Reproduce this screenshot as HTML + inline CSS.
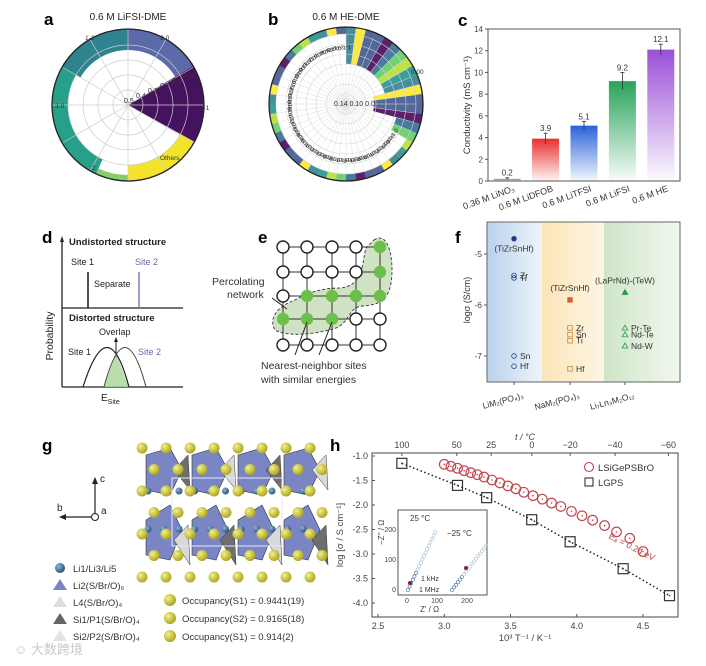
<!DOCTYPE html>
<html><head><meta charset="utf-8"><style>
body{margin:0;background:#fff;}
svg{display:block;font-family:"Liberation Sans","Noto Sans CJK SC",sans-serif;}
</style></head><body>
<svg id="fig" width="706" height="666" viewBox="0 0 706 666">
<defs>
<linearGradient id="gRed" x1="0" y1="0" x2="0" y2="1"><stop offset="0" stop-color="#e8302e"/><stop offset="1" stop-color="#e8302e" stop-opacity="0.05"/></linearGradient>
<linearGradient id="gBlue" x1="0" y1="0" x2="0" y2="1"><stop offset="0" stop-color="#2a62d8"/><stop offset="1" stop-color="#2a62d8" stop-opacity="0.05"/></linearGradient>
<linearGradient id="gGreen" x1="0" y1="0" x2="0" y2="1"><stop offset="0" stop-color="#27a35a"/><stop offset="1" stop-color="#27a35a" stop-opacity="0.03"/></linearGradient>
<linearGradient id="gPurple" x1="0" y1="0" x2="0" y2="1"><stop offset="0" stop-color="#9a4fd8"/><stop offset="1" stop-color="#9a4fd8" stop-opacity="0.03"/></linearGradient>
<linearGradient id="gGray" x1="0" y1="0" x2="0" y2="1"><stop offset="0" stop-color="#888"/><stop offset="1" stop-color="#888" stop-opacity="0.2"/></linearGradient>
<linearGradient id="fBlue" x1="0" y1="0" x2="1" y2="0"><stop offset="0" stop-color="#b9d1ec"/><stop offset="1" stop-color="#eef4fb"/></linearGradient>
<linearGradient id="fOrange" x1="0" y1="0" x2="1" y2="0"><stop offset="0" stop-color="#fbe5b8"/><stop offset="1" stop-color="#fdf5e4"/></linearGradient>
<linearGradient id="fGreen" x1="0" y1="0" x2="1" y2="0"><stop offset="0" stop-color="#cfe5c8"/><stop offset="1" stop-color="#f2f8ef"/></linearGradient>
<radialGradient id="ball" cx="0.35" cy="0.35" r="0.7"><stop offset="0" stop-color="#f4f08a"/><stop offset="1" stop-color="#a8a21a"/></radialGradient>
<radialGradient id="liball" cx="0.35" cy="0.35" r="0.7"><stop offset="0" stop-color="#8fb8d8"/><stop offset="1" stop-color="#1f4f7a"/></radialGradient>
</defs>

<g font-weight="bold" font-size="17" fill="#000">
<text x="44" y="25">a</text><text x="268" y="25">b</text><text x="458" y="26">c</text>
<text x="42" y="243">d</text><text x="258" y="243">e</text><text x="455" y="243">f</text>
<text x="42" y="451">g</text><text x="330" y="451">h</text>
</g>

<g id="panelA"></g>
<g id="panelB"></g>
<g id="panelC"></g>

<g font-size="9" fill="#222">
<line x1="62" y1="387" x2="62" y2="240" stroke="#222" stroke-width="1.3"/>
<polygon points="62,236 60,242 64,242" fill="#222"/>
<line x1="62" y1="308" x2="183" y2="308" stroke="#222" stroke-width="1.3"/>
<line x1="62" y1="387" x2="183" y2="387" stroke="#222" stroke-width="1.3"/>
<text x="69" y="245" font-weight="bold" font-size="9.5">Undistorted structure</text>
<text x="71" y="265">Site 1</text><text x="135" y="265" fill="#6a6aa8">Site 2</text>
<line x1="88" y1="272" x2="88" y2="308" stroke="#222" stroke-width="1.6"/>
<line x1="139" y1="272" x2="139" y2="308" stroke="#6a6aa8" stroke-width="1.3"/>
<text x="94" y="287">Separate</text>
<text x="69" y="321" font-weight="bold" font-size="9.5">Distorted structure</text>
<text x="99" y="335">Overlap</text>
<line x1="116" y1="358" x2="116" y2="340" stroke="#222"/><polygon points="116,337 114,342 118,342" fill="#222"/>
<text x="68" y="355">Site 1</text><text x="138" y="355" fill="#6a6aa8">Site 2</text>
<polygon points="104,387 116,353 129,387" fill="#a9d49a" opacity="0.8"/>
<path d="M83,387 Q108,308 129,387" fill="none" stroke="#222" stroke-width="1.2"/>
<path d="M104,387 Q125,308 146,387" fill="none" stroke="#444" stroke-width="1"/>
<text x="101" y="401" font-size="10">E<tspan font-size="7" dy="3">Site</tspan></text>
<text transform="translate(53,336) rotate(-90)" font-size="10.5" text-anchor="middle">Probability</text>
</g>

<g id="panelE"></g>
<g id="panelF"></g>
<g id="panelG"></g>
<g id="panelH"></g>

<text x="14" y="654" font-size="13" fill="#c8c8c8">☺ 大数跨境</text>
</svg>

<script>
const NS="http://www.w3.org/2000/svg";
function mk(parent,tag,attrs,text){const e=document.createElementNS(NS,tag);for(const k in attrs)e.setAttribute(k,attrs[k]);if(text!==undefined)e.textContent=text;parent.appendChild(e);return e;}

const cCategories=["0.36 M LiNO₃","0.6 M LiDFOB","0.6 M LiTFSI","0.6 M LiFSI","0.6 M HE"];
const cValues=[0.2,3.9,5.1,9.2,12.1];
const cErrors=[0.1,0.5,0.4,0.8,0.5];
const cTicks=[0,2,4,6,8,10,12,14];
const cFills=["url(#gGray)","url(#gRed)","url(#gBlue)","url(#gGreen)","url(#gPurple)"];
const fCategories=["LiM₂(PO₄)₃","NaM₂(PO₄)₃","Li₇Ln₃M₂O₁₂"];
const fTicks=[-5,-6,-7];
const fLabels=["(TiZrSnHf)","Zr","Ti","Sn","Hf","(TiZrSnHf)","Zr","Sn","Ti","Hf","(LaPrNd)-(TeW)","Pr-Te","Nd-Te","Nd-W"];
const fGroup=[0,0,0,0,0,1,1,1,1,1,2,2,2,2];
const fValues=[-4.7,-5.42,-5.47,-7.0,-7.2,-5.9,-6.45,-6.58,-6.7,-7.25,-5.75,-6.45,-6.58,-6.8];
const hTicksX=[2.5,3.0,3.5,4.0,4.5];
const hTicksY=[-1.0,-1.5,-2.0,-2.5,-3.0,-3.5,-4.0];
const hTopTicks=[100,50,25,0,-20,-40,-60];
const lgpsX=[2.68,3.10,3.32,3.66,3.95,4.35,4.70];
const lgpsY=[-1.15,-1.60,-1.85,-2.30,-2.75,-3.30,-3.85];
const lsiX=[3.00,3.05,3.10,3.15,3.20,3.25,3.30,3.36,3.42,3.48,3.54,3.60,3.67,3.74,3.81,3.88,3.96,4.04,4.12,4.21,4.30,4.40,4.50];
const lsiY=[-1.17,-1.21,-1.25,-1.30,-1.34,-1.38,-1.43,-1.49,-1.55,-1.61,-1.67,-1.74,-1.81,-1.88,-1.96,-2.03,-2.13,-2.22,-2.31,-2.42,-2.55,-2.68,-2.95];
const aStart=[0,59,119,180,205,300];
const aEnd=[59,119,180,205,300,360];
const aInner=[55,0,60,70,60,55];
const aColors=["#5b6aa8","#45125f","#f3e42b","#86cc6a","#27a08a","#2e838e"];
const aLabels=["2-0","2-1","Others","2","3-0","1-2"];

(function(){
const g=document.getElementById('panelA');const cx=128,cy=105,R=76;
mk(g,'text',{x:cx,y:20,'font-size':10,'text-anchor':'middle',fill:'#222'},'0.6 M LiFSI-DME');
function pt(a,r){const t=(a-90)*Math.PI/180;return [cx+r*Math.cos(t),cy+r*Math.sin(t)];}
function sector(a0,a1,r0,r1){const p0=pt(a0,r1),p1=pt(a1,r1),large=(a1-a0)>180?1:0;
 if(r0<=0)return `M${cx},${cy}L${p0}A${r1},${r1} 0 ${large} 1 ${p1}Z`;
 const q0=pt(a1,r0),q1=pt(a0,r0);return `M${p0}A${r1},${r1} 0 ${large} 1 ${p1}L${q0}A${r0},${r0} 0 ${large} 0 ${q1}Z`;}
for(let i=0;i<aStart.length;i++){
 const s=mk(g,'path',{d:sector(aStart[i],aEnd[i],aInner[i],R),fill:aColors[i]});
 
 
}
for(const r of [15,30,45,60,76])mk(g,'circle',{cx,cy,r,fill:'none',stroke:'#ccc','stroke-width':0.7});
for(let a=0;a<360;a+=30){const p=pt(a,76);mk(g,'line',{x1:cx,y1:cy,x2:p[0],y2:p[1],stroke:'#ccc','stroke-width':0.7});}
mk(g,'circle',{cx,cy,r:R,fill:'none',stroke:'#222','stroke-width':1.3});
const rl=['0.5','0.4','0.3','0.2','0.1','0.0'];rl.forEach((t,i)=>mk(g,'text',{x:cx-4+i*12,y:cy-2-i*5,'font-size':7,fill:'#333'},t));
[[200,110,'2-1'],[55,108,'3-0'],[160,40,'2-0'],[85,40,'1-2'],[160,160,'Others'],[92,170,'2']].forEach(l=>mk(g,'text',{x:l[0],y:l[1],'font-size':6.5,fill:'#333'},l[2]));
})();

(function(){
const g=document.getElementById('panelB');const cx=346,cy=104,R=77;
mk(g,'text',{x:346,y:20,'font-size':10,'text-anchor':'middle',fill:'#222'},'0.6 M HE-DME');
function pt(a,r){const t=(a-90)*Math.PI/180;return [cx+r*Math.cos(t),cy+r*Math.sin(t)];}
const cols=["#2e7d8e","#3b528b","#440154","#5ec962","#21918c","#fde725","#3b528b","#31688e","#b5de2b"];
const n=48;
for(let i=0;i<n;i++){const a0=i*360/n,a1=(i+1)*360/n;let r0=70;
 if(a0>=0&&a0<75)r0=40; if(a0>=75&&a0<105)r0=28; if(a0>=105&&a0<115)r0=52;
 const p0=pt(a0,R),p1=pt(a1,R),q0=pt(a1,r0),q1=pt(a0,r0);
 const c=cols[(i*5)%cols.length];
 mk(g,'path',{d:`M${p0}A${R},${R} 0 0 1 ${p1}L${q0}A${r0},${r0} 0 0 0 ${q1}Z`,fill:c,opacity:0.88});
}
for(const r of [10,20,30,40,50,60,70])mk(g,'circle',{cx,cy,r,fill:'none',stroke:'#d4d4d4','stroke-width':0.6});
for(let a=0;a<360;a+=7.5){const p=pt(a,70);mk(g,'line',{x1:cx,y1:cy,x2:p[0],y2:p[1],stroke:'#ddd','stroke-width':0.5});}
for(let i=0;i<34;i++){const a=125+i*7;const p=pt(a,58);mk(g,'text',{x:p[0],y:p[1],'font-size':5.5,fill:'#222','text-anchor':'middle',transform:`rotate(${a-180},${p[0]},${p[1]})`},['0-0-1-0','1-0-0-0','2-0-1-0','1-1-0-0','0-1-0-1'][i%5]);}
mk(g,'circle',{cx,cy,r:R,fill:'none',stroke:'#222','stroke-width':1.3});
mk(g,'text',{x:cx-12,y:cy+2,'font-size':7,fill:'#333'},'0.14  0.10  0.0');
mk(g,'text',{x:cx+65,y:cy-30,'font-size':6.5,fill:'#333'},'0.00');
})();

(function(){
const g=document.getElementById('panelC');const L=488,Rr=680,T=29,B=181;
const y=v=>B-(v/14)*(B-T);const band=(Rr-L)/cCategories.length;const x=i=>L+(i+0.5)*band;
mk(g,'rect',{x:L,y:T,width:Rr-L,height:B-T,fill:'none',stroke:'#555','stroke-width':1});
cTicks.forEach(t=>{mk(g,'line',{x1:L-3,y1:y(t),x2:L,y2:y(t),stroke:'#555'});mk(g,'text',{x:L-5,y:y(t)+3,'font-size':8,'text-anchor':'end',fill:'#444'},t);});
cValues.forEach((v,i)=>{
 const b=mk(g,'rect',{x:x(i)-13.5,y:y(v),width:27,height:B-y(v),fill:cFills[i]});
 
 
 mk(g,'line',{x1:x(i),y1:y(v+cErrors[i]),x2:x(i),y2:y(v-cErrors[i]),stroke:'#333','stroke-width':0.8});
 mk(g,'line',{x1:x(i)-2,y1:y(v+cErrors[i]),x2:x(i)+2,y2:y(v+cErrors[i]),stroke:'#333','stroke-width':0.8});
 mk(g,'text',{x:x(i),y:y(v+cErrors[i])-2,'font-size':8,'text-anchor':'middle',fill:'#333'},v.toFixed(1));
 mk(g,'text',{x:x(i)+8,y:B+10,'font-size':9,'text-anchor':'end',fill:'#333',transform:`rotate(-20,${x(i)+8},${B+10})`},cCategories[i]);
});
mk(g,'text',{x:470,y:105,'font-size':9.5,'text-anchor':'middle',fill:'#333',transform:'rotate(-90,470,105)'},'Conductivity (mS cm⁻¹)');
})();

(function(){
const g=document.getElementById('panelE');const xs=[283,307,332,356,380],ys=[247,272,296,319,345];
const green=[[0,4],[1,4],[2,1],[2,2],[2,3],[2,4],[3,0],[3,1],[3,2]];
mk(g,'path',{d:'M374,240 C386,232 392,250 392,270 C392,300 380,305 362,306 C348,308 350,322 336,328 C310,336 285,336 275,330 C268,318 278,306 295,300 C305,294 320,288 340,288 C364,286 362,262 366,248 Z',fill:'#cfe3c4',stroke:'#333','stroke-dasharray':'3,2','stroke-width':0.9});
ys.forEach(yy=>mk(g,'line',{x1:xs[0],y1:yy,x2:xs[4],y2:yy,stroke:'#333','stroke-width':1}));
xs.forEach(xx=>mk(g,'line',{x1:xx,y1:ys[0],x2:xx,y2:ys[4],stroke:'#333','stroke-width':1}));
for(let r=0;r<5;r++)for(let c=0;c<5;c++){const isG=green.some(p=>p[0]===r&&p[1]===c);
 mk(g,'circle',{cx:xs[c],cy:ys[r],r:isG?5.5:6,fill:isG?'#6cc04a':'#fff',stroke:isG?'#6cc04a':'#222','stroke-width':1.4});}
mk(g,'text',{x:212,y:285,'font-size':10.5,fill:'#333'},'Percolating');
mk(g,'text',{x:227,y:298,'font-size':10.5,fill:'#333'},'network');
mk(g,'line',{x1:287,y1:309,x2:272,y2:298,stroke:'#222'});
mk(g,'line',{x1:307,y1:322,x2:295,y2:355,stroke:'#222'});
mk(g,'line',{x1:332,y1:322,x2:319,y2:355,stroke:'#222'});
mk(g,'text',{x:261,y:369,'font-size':10.5,fill:'#333'},'Nearest-neighbor sites');
mk(g,'text',{x:261,y:383,'font-size':10.5,fill:'#333'},'with similar energies');
})();

(function(){
const g=document.getElementById('panelF');const L=487,Rr=680,T=222,B=382;
const y=v=>254+(-5-v)*51;const xc=[514,570,625];
mk(g,'rect',{x:L,y:T,width:55,height:B-T,fill:'url(#fBlue)'});
mk(g,'rect',{x:542,y:T,width:62,height:B-T,fill:'url(#fOrange)'});
mk(g,'rect',{x:604,y:T,width:76,height:B-T,fill:'url(#fGreen)'});
mk(g,'rect',{x:L,y:T,width:Rr-L,height:B-T,fill:'none',stroke:'#666'});
fTicks.forEach(t=>{mk(g,'line',{x1:L-3,y1:y(t),x2:L,y2:y(t),stroke:'#555'});mk(g,'text',{x:L-5,y:y(t)+3,'font-size':8.5,'text-anchor':'end',fill:'#444'},t);});
xc.forEach((x,i)=>{mk(g,'line',{x1:x,y1:B,x2:x,y2:B+3,stroke:'#555'});mk(g,'text',{x:x+10,y:B+16,'font-size':8.5,'text-anchor':'end',fill:'#333',transform:`rotate(-15,${x+10},${B+16})`},fCategories[i]);});
mk(g,'text',{x:470,y:300,'font-size':9,'text-anchor':'middle',fill:'#333',transform:'rotate(-90,470,300)'},'logσ (S/cm)');
fValues.forEach((v,i)=>{const gi=fGroup[i];const x=xc[gi],yy=y(v);const filled=fLabels[i].startsWith('(');
 let m;
 if(gi===0)m=mk(g,'circle',{cx:x,cy:yy,r:2.3,fill:filled?'#1f3a80':'none',stroke:'#1f3a80','stroke-width':0.8});
 else if(gi===1)m=mk(g,'rect',{x:x-2.3,y:yy-2.3,width:4.6,height:4.6,fill:filled?'#d0622e':'none',stroke:filled?'#d0622e':'#c08a3a','stroke-width':0.8});
 else m=mk(g,'polygon',{points:`${x},${yy-2.8} ${x-2.8},${yy+2.2} ${x+2.8},${yy+2.2}`,fill:filled?'#2a9a50':'none',stroke:'#2a9a50','stroke-width':0.8});
 
 
 if(filled)mk(g,'text',{x:x,y:yy+(gi===0?13:-9),'font-size':8.5,'text-anchor':'middle',fill:'#333'},fLabels[i]);
 else mk(g,'text',{x:x+6,y:yy+3,'font-size':8.5,fill:'#333'},fLabels[i]);
});
})();

(function(){
const g=document.getElementById('panelG');
mk(g,'line',{x1:95,y1:517,x2:95,y2:482,stroke:'#222','stroke-width':1.2});mk(g,'polygon',{points:'95,477 92,484 98,484',fill:'#222'});
mk(g,'line',{x1:93,y1:517,x2:64,y2:517,stroke:'#222','stroke-width':1.2});mk(g,'polygon',{points:'59,517 66,514 66,520',fill:'#222'});
mk(g,'circle',{cx:95,cy:517,r:3.5,fill:'#fff',stroke:'#222'});
mk(g,'text',{x:100,y:482,'font-size':10,fill:'#222'},'c');mk(g,'text',{x:57,y:511,'font-size':10,fill:'#222'},'b');mk(g,'text',{x:101,y:514,'font-size':10,fill:'#222'},'a');
for(let c=0;c<4;c++){const ox=140+c*46;
 mk(g,'polygon',{points:`${ox+6},${455} ${ox+30},${448} ${ox+42},${470} ${ox+30},${495} ${ox+6},${490}`,fill:'#7a86c4',stroke:'#333','stroke-width':0.6});
 mk(g,'polygon',{points:`${ox+6},${520} ${ox+30},${505} ${ox+42},${530} ${ox+30},${560} ${ox+6},${555}`,fill:'#7a86c4',stroke:'#333','stroke-width':0.6});
 mk(g,'polygon',{points:`${ox+34},${470} ${ox+48},${455} ${ox+50},${490}`,fill:c%2?'#d9d9d9':'#6e6e6e',stroke:'#333','stroke-width':0.5});
 mk(g,'polygon',{points:`${ox+34},${540} ${ox+48},${525} ${ox+50},${565}`,fill:c%2?'#6e6e6e':'#d9d9d9',stroke:'#333','stroke-width':0.5});
}
mk(g,'rect',{x:172,y:478,width:110,height:68,fill:'none',stroke:'#e8e8f8','stroke-width':1});
for(let c=0;c<11;c++){mk(g,'circle',{cx:148+c*15.5,cy:491,r:3.5,fill:'url(#liball)'});mk(g,'circle',{cx:148+c*15.5,cy:529,r:3.5,fill:'url(#liball)'});}
for(let r=0;r<7;r++)for(let c=0;c<8;c++){const x=142+c*24+(r%2?12:0),yy=448+r*21.5;if(x>322)continue;mk(g,'circle',{cx:x,cy:yy,r:5.5,fill:'url(#ball)'});}
const leg=[['Li1/Li3/Li5','c'],['Li2(S/Br/O)₆','#7a86c4'],['L4(S/Br/O)₄','#ddd'],['Si1/P1(S/Br/O)₄','#666'],['Si2/P2(S/Br/O)₄','#e4e4e4']];
leg.forEach((l,i)=>{const yy=571+i*17;
 if(l[1]==='c')mk(g,'circle',{cx:60,cy:yy-3,r:5,fill:'url(#liball)'});else mk(g,'polygon',{points:`60,${yy-9} 53,${yy+2} 67,${yy+2}`,fill:l[1]});
 mk(g,'text',{x:73,y:yy+1,'font-size':9.5,fill:'#333'},l[0]);});
['Occupancy(S1) = 0.9441(19)','Occupancy(S2) = 0.9165(18)','Occupancy(S1) = 0.914(2)'].forEach((t,i)=>{const yy=604+i*18;
 mk(g,'circle',{cx:170,cy:yy-4,r:6,fill:'url(#ball)'});mk(g,'text',{x:182,y:yy,'font-size':9.5,fill:'#333'},t);});
})();

(function(){
const g=document.getElementById('panelH');const L=372,Rr=678,T=453,B=617;
const x=v=>378+(v-2.5)*132.5, y=v=>456+(-1-v)*49;
mk(g,'rect',{x:L,y:T,width:Rr-L,height:B-T,fill:'none',stroke:'#555','stroke-width':1.1});
hTicksX.forEach(t=>{mk(g,'line',{x1:x(t),y1:B,x2:x(t),y2:B-3,stroke:'#555'});mk(g,'text',{x:x(t),y:B+12,'font-size':9,'text-anchor':'middle',fill:'#444'},t.toFixed(1));});
hTicksY.forEach(t=>{mk(g,'line',{x1:L,y1:y(t),x2:L+3,y2:y(t),stroke:'#555'});mk(g,'text',{x:L-4,y:y(t)+3,'font-size':9,'text-anchor':'end',fill:'#444'},t.toFixed(1));});
hTopTicks.forEach(t=>{const xv=x(1000/(t+273.15));mk(g,'line',{x1:xv,y1:T,x2:xv,y2:T+3,stroke:'#555'});mk(g,'text',{x:xv,y:T-5,'font-size':9,'text-anchor':'middle',fill:'#444'},t===0?'0':(t<0?'−'+(-t):t));});
mk(g,'text',{x:525,y:440,'font-size':9,'text-anchor':'middle',fill:'#444','font-style':'italic'},'t / °C');
mk(g,'text',{x:525,y:641,'font-size':9.5,'text-anchor':'middle',fill:'#444'},'10³ T⁻¹ / K⁻¹');
mk(g,'text',{x:343,y:535,'font-size':9.5,'text-anchor':'middle',fill:'#444',transform:'rotate(-90,343,535)'},'log [σ / S cm⁻¹]');
const lp=lgpsX.map((v,i)=>`${x(v)},${y(lgpsY[i])}`).join(' ');
mk(g,'polyline',{points:lp,fill:'none',stroke:'#222','stroke-width':1.5,'stroke-dasharray':'1.5,2.5'});
lgpsX.forEach((v,i)=>{const m=mk(g,'rect',{x:x(v)-5,y:y(lgpsY[i])-5,width:10,height:10,fill:'none',stroke:'#333','stroke-width':1.2});
 
 
 mk(g,'circle',{cx:x(v),cy:y(lgpsY[i]),r:0.8,fill:'#333'});});
lsiX.forEach((v,i)=>{const m=mk(g,'circle',{cx:x(v),cy:y(lsiY[i]),r:4.8,fill:'none',stroke:'#c0474f','stroke-width':1.2});
 
 
 mk(g,'circle',{cx:x(v),cy:y(lsiY[i]),r:0.8,fill:'#c0474f'});});
mk(g,'text',{x:608,y:538,'font-size':9,fill:'#c0474f',transform:'rotate(27,608,538)'},'Eₐ = 0.24 eV');
mk(g,'circle',{cx:589,cy:467,r:4.5,fill:'none',stroke:'#c0474f','stroke-width':1.1});
mk(g,'text',{x:598,y:471,'font-size':9.5,fill:'#333'},'LSiGePSBrO');
mk(g,'rect',{x:585,y:478,width:8,height:8,fill:'none',stroke:'#333','stroke-width':1.1});
mk(g,'text',{x:598,y:486,'font-size':9.5,fill:'#333'},'LGPS');
mk(g,'rect',{x:398,y:510,width:89,height:85,fill:'#fff',stroke:'#555'});
mk(g,'text',{x:410,y:521,'font-size':8,fill:'#333'},'25 °C');mk(g,'text',{x:447,y:536,'font-size':8,fill:'#333'},'−25 °C');
for(let i=0;i<18;i++){mk(g,'circle',{cx:408+i*1.6,cy:590-i*3.4,r:1.6,fill:'none',stroke:i<6?'#3a6ea0':'#a8c4d8','stroke-width':0.6});
 mk(g,'circle',{cx:452+i*2.0,cy:590-i*2.6,r:1.6,fill:'none',stroke:i<6?'#3a6ea0':'#a8c4d8','stroke-width':0.6});}
mk(g,'circle',{cx:410,cy:583,r:2,fill:'#8a1a3a'});mk(g,'circle',{cx:466,cy:568,r:2,fill:'#8a1a3a'});
mk(g,'text',{x:421,y:581,'font-size':7,fill:'#333'},'1 kHz');mk(g,'text',{x:419,y:592,'font-size':7,fill:'#333'},'1 MHz');
[[407,'0'],[437,'100'],[467,'200']].forEach(t=>mk(g,'text',{x:t[0],y:603,'font-size':7,'text-anchor':'middle',fill:'#444'},t[1]));
[[590,'0'],[560,'100'],[530,'200']].forEach(t=>mk(g,'text',{x:396,y:t[0]+2,'font-size':7,'text-anchor':'end',fill:'#444'},t[1]));
mk(g,'text',{x:420,y:612,'font-size':8,fill:'#444'},"Z' / Ω");
mk(g,'text',{x:384,y:545,'font-size':8,fill:'#444',transform:'rotate(-90,384,545)'},"−Z'' / Ω");
})();
</script>
</body></html>
